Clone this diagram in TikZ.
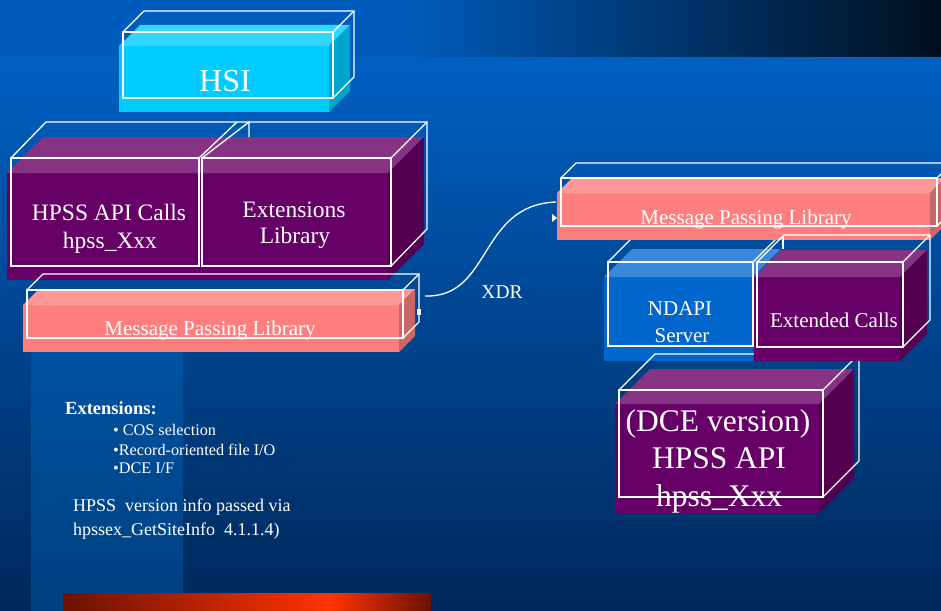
\documentclass[tikz,border=0pt]{standalone}
\usepackage{fontspec}
\setmainfont{Liberation Serif}
\definecolor{bgTop}{HTML}{0060C2}
\definecolor{bgBot}{HTML}{00285A}
\definecolor{stripL}{HTML}{005CBC}
\definecolor{stripR}{HTML}{000F1E}
\definecolor{colTop}{HTML}{0052A2}
\definecolor{colBot}{HTML}{00407F}
\definecolor{purF}{HTML}{660066}
\definecolor{purT}{HTML}{863384}
\definecolor{purS}{HTML}{52004F}
\definecolor{pinF}{HTML}{FF7F7F}
\definecolor{pinT}{HTML}{FF9999}
\definecolor{pinS}{HTML}{CC6666}
\definecolor{cyaF}{HTML}{00CCFF}
\definecolor{cyaT}{HTML}{33D6FF}
\definecolor{cyaS}{HTML}{00A5CC}
\definecolor{bluF}{HTML}{0066CC}
\definecolor{bluT}{HTML}{3A88D8}
\definecolor{bluS}{HTML}{0052A3}
\definecolor{barDark}{HTML}{6B1200}
\definecolor{barBright}{HTML}{FF3300}
\newcommand{\mkfillbox}[8]{%
  \fill[#6] (#1,#2) rectangle (#3,#4);
  \fill[#7] (#1,#2) -- ({#1+#5},{#2-#5}) -- ({#3+#5},{#2-#5}) -- (#3,#2) -- cycle;
  \fill[#8] (#3,#2) -- ({#3+#5},{#2-#5}) -- ({#3+#5},{#4-#5}) -- (#3,#4) -- cycle;}
\newcommand{\mkwirebox}[5]{%
  \draw[wire] (#1,#2) rectangle (#3,#4);
  \draw[wire] (#1,#2) -- ({#1+#5},{#2-#5}) -- ({#3+#5},{#2-#5}) -- ({#3+#5},{#4-#5}) -- (#3,#4);
  \draw[wire] (#3,#2) -- ({#3+#5},{#2-#5});}
\begin{document}
\begin{tikzpicture}[x=1pt,y=-1pt,
  wire/.style={draw=white,line width=1.3pt,line join=miter},
  lbl/.style={text=white,inner sep=0pt,anchor=base},
  lbll/.style={text=white,inner sep=0pt,anchor=base west}]
\useasboundingbox (0,0) rectangle (941,610);
\clip (0,0) rectangle (941,610);
% background
\shade[top color=bgTop,bottom color=bgBot] (0,57) rectangle (941,610);
\fill[stripL] (0,0) rectangle (400,57);
\shade[left color=stripL,right color=stripR] (400,0) rectangle (941,57);
\shade[top color=colTop,bottom color=colBot] (31,352) rectangle (183,610);
% HSI
\mkfillbox{119}{46}{329}{112}{21}{cyaF}{cyaT}{cyaS}
\mkwirebox{123}{32}{333}{98}{21}
% HPSS API calls + Extensions library
\mkfillbox{7}{173}{388}{280}{36}{purF}{purT}{purS}
\draw[wire] (11,158) rectangle (199,266);
\draw[wire] (202,158) rectangle (391,266);
\draw[wire] (11,158) -- (46,122) -- (427,122) -- (427,229) -- (391,266);
\draw[wire] (199,158) -- (237,122);
\draw[wire] (202,158) -- (249,122) -- (249,137);
\draw[wire] (391,158) -- (427,122);
% left message passing library
\mkfillbox{23}{305}{399}{352}{16}{pinF}{pinT}{pinS}
\mkwirebox{27}{290}{403}{338}{16}
% NDAPI server
\mkfillbox{604}{277}{753}{361}{28}{bluF}{bluT}{bluS}
\draw[wire] (608,262) rectangle (753,346);
\draw[wire] (608,262) -- (637,233);
\draw[wire] (753,262) -- (782,233);
% right message passing library
\mkfillbox{557}{193}{930}{240}{15}{pinF}{pinT}{pinS}
\mkwirebox{561}{178}{937}{226}{15}
% DCE HPSS API
\mkfillbox{615}{404}{819}{513}{35}{purF}{purT}{purS}
\mkwirebox{619}{390}{823}{497}{36}
% Extended calls
\mkfillbox{754}{277}{900}{361}{27}{purF}{purT}{purS}
\mkwirebox{757}{262}{903}{347}{27}
\draw[wire] (783,235) -- (783,249);
% labels
\node[lbl,font=\fontsize{32}{32}\selectfont] (hsi) at (225,91) {HSI};
\node[lbl,font=\fontsize{23.5}{23.5}\selectfont] (api1) at (109,220) {HPSS API Calls};
\node[lbl,font=\fontsize{23.5}{23.5}\selectfont] (api2) at (110,248) {hpss\_Xxx};
\node[lbl,font=\fontsize{23.5}{23.5}\selectfont] (ext1) at (294,217) {Extensions};
\node[lbl,font=\fontsize{23.5}{23.5}\selectfont] (ext2) at (295,243) {Library};
\node[lbl,font=\fontsize{21}{21}\selectfont] (mpl) at (210,335) {Message Passing Library};
\node[lbl,font=\fontsize{21}{21}\selectfont] (mpr) at (746,224) {Message Passing Library};
\node[lbl,font=\fontsize{21}{21}\selectfont] (nd1) at (680,315) {NDAPI};
\node[lbl,font=\fontsize{21}{21}\selectfont] (nd2) at (682,342) {Server};
\node[lbl,font=\fontsize{21}{21}\selectfont] (exc) at (834,327) {Extended Calls};
\node[lbl,font=\fontsize{31.5}{31.5}\selectfont] (dce1) at (718,431) {(DCE version)};
\node[lbl,font=\fontsize{31.5}{31.5}\selectfont] (dce2) at (719,468) {HPSS API};
\node[lbl,font=\fontsize{31.5}{31.5}\selectfont] (dce3) at (719,506) {hpss\_Xxx};
\node[lbl,font=\fontsize{19.5}{19.5}\selectfont] (xdr) at (502,298) {XDR};
% XDR connector
\coordinate (xa) at (425,296);
\coordinate (xb) at (556,202);
\draw[white,line width=1.3pt] (xa) .. controls (492,298) and (478,205) .. (xb);
\fill[white] (552,214) -- (557,218) -- (552,222) -- cycle;
\fill[white] (417,309) rectangle (421,315);
% left text block
\node[lbll,font=\bfseries\fontsize{18.5}{18.5}\selectfont] (exh) at (65,414) {Extensions:};
\node[lbll,font=\fontsize{16.2}{16.2}\selectfont] (b1) at (113,435) {• COS selection};
\node[lbll,font=\fontsize{16.2}{16.2}\selectfont] (b2) at (113,455) {•Record-oriented file I/O};
\node[lbll,font=\fontsize{16.2}{16.2}\selectfont] (b3) at (113,473) {•DCE I/F};
\node[lbll,font=\fontsize{18}{18}\selectfont] (v1) at (73,511) {HPSS\ \ version info passed via};
\node[lbll,font=\fontsize{18}{18}\selectfont] (v2) at (73,535) {hpssex\_GetSiteInfo\ \ 4.1.1.4)};
% bottom bar
\shade[left color=barDark,right color=barBright] (63,593) rectangle (330,610);
\shade[left color=barBright,right color=barDark] (329.5,593) rectangle (431,610);
\end{tikzpicture}
\end{document}
